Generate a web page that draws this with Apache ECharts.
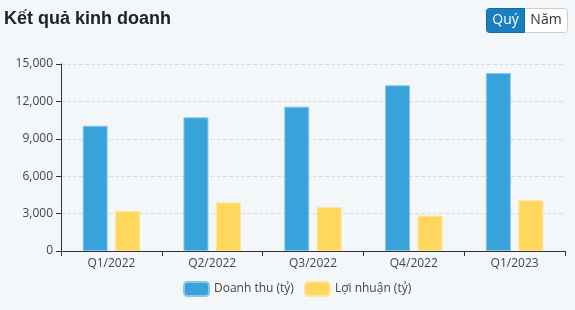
<!DOCTYPE html>
<html><head><meta charset="utf-8">
<script src="https://cdn.jsdelivr.net/npm/echarts@6/dist/echarts.min.js"></script>
<style>html,body{margin:0;padding:0;background:#f4f7fa;}#c{width:575px;height:310px;}</style>
</head><body><div id="c"></div>
<script>
const categories = ['Q1/2022','Q2/2022','Q3/2022','Q4/2022','Q1/2023'];
const revenue = [10050, 10720, 11580, 13290, 14280];
const profit = [3210, 3900, 3530, 2840, 4070];
const seriesNames = ['Doanh thu (tỷ)','Lợi nhuận (tỷ)'];
const yTicks = {min:0, max:15000, interval:3000};
const FT = '"Liberation Sans", Arial, sans-serif';
const FF = '"Open Sans", "Liberation Sans", sans-serif';
const chart = echarts.init(document.getElementById('c'));
chart.setOption({
  backgroundColor:'#f4f7fa',
  textStyle:{fontFamily:FF},
  title:{text:'Kết quả kinh doanh', left:-1, top:5, textStyle:{fontSize:18, fontWeight:'bold', color:'#222', fontFamily:FT}},
  graphic:[
    {type:'rect', shape:{x:486.5,y:8.5,width:81,height:24,r:3}, style:{fill:'#fff', stroke:'#c9cdd2', lineWidth:1}},
    {type:'rect', shape:{x:486.5,y:8.5,width:38,height:24,r:[3,0,0,3]}, style:{fill:'#1a7fc1', stroke:'#16689e', lineWidth:1}},
    {type:'text', x:505.5, y:20.5, style:{text:'Quý', fill:'#fff', font:'14px "Open Sans", sans-serif', align:'center', verticalAlign:'middle'}},
    {type:'text', x:546, y:20.5, style:{text:'Năm', fill:'#333', font:'14px "Open Sans", sans-serif', align:'center', verticalAlign:'middle'}}
  ],
  legend:{bottom:8, left:178, itemWidth:25, itemHeight:14, itemGap:10,
    textStyle:{fontSize:12, color:'#444', fontFamily:FF}, icon:'roundRect'},
  grid:{left:61, right:10, top:64, bottom:59},
  xAxis:{type:'category', data:categories,
    axisLine:{lineStyle:{color:'#333'}}, axisTick:{show:true, lineStyle:{color:'#333'}},
    axisLabel:{color:'#444', fontSize:12, margin:7, fontFamily:FF}},
  yAxis:{type:'value', min:yTicks.min, max:yTicks.max, interval:yTicks.interval,
    axisLine:{show:true, lineStyle:{color:'#333'}}, axisTick:{show:true, lineStyle:{color:'#333'}},
    axisLabel:{color:'#444', fontSize:12, fontFamily:FF, formatter:v=>v.toLocaleString('en-US')},
    splitLine:{lineStyle:{type:'dashed', color:'#d9dcdf'}}},
  series:[
    {name:seriesNames[0], type:'bar', data:revenue, barWidth:25, barGap:'30%',
      itemStyle:{color:'#38a2da', borderColor:'#8cc7ea', borderWidth:1}},
    {name:seriesNames[1], type:'bar', data:profit, barWidth:25,
      itemStyle:{color:'#ffd75e', borderColor:'#ffe69a', borderWidth:1}}
  ]
});
</script></body></html>
